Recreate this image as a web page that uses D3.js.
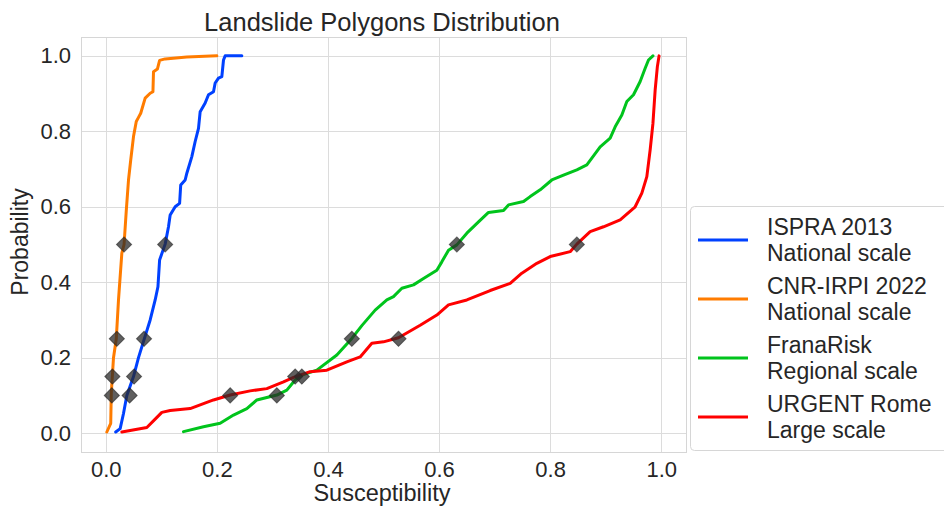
<!DOCTYPE html>
<html>
<head>
<meta charset="utf-8">
<script src="https://cdn.jsdelivr.net/npm/d3@7"></script>
<style>
  body { margin: 0; background: #fff; }
  text { font-family: "Liberation Sans", Arial, sans-serif; fill: #262626; }
</style>
</head>
<body>
<svg id="chart" width="944" height="507"></svg>
<script>
// ECDF curves (susceptibility, probability)
const ispraX = [0.018, 0.026, 0.032, 0.038, 0.050, 0.059, 0.069, 0.080, 0.089, 0.094, 0.097, 0.107, 0.113, 0.116, 0.125, 0.133, 0.135, 0.143, 0.146, 0.155, 0.161, 0.167, 0.170, 0.179, 0.185, 0.194, 0.197, 0.203, 0.209, 0.212, 0.215, 0.245];
const ispraY = [0.003, 0.012, 0.052, 0.100, 0.150, 0.200, 0.248, 0.300, 0.353, 0.388, 0.459, 0.501, 0.547, 0.578, 0.600, 0.609, 0.658, 0.671, 0.689, 0.733, 0.773, 0.808, 0.852, 0.875, 0.897, 0.905, 0.928, 0.941, 0.945, 0.989, 1.000, 1.000];

const cnrX = [0.002, 0.009, 0.010, 0.014, 0.019, 0.023, 0.029, 0.033, 0.037, 0.041, 0.045, 0.050, 0.055, 0.059, 0.063, 0.071, 0.080, 0.085, 0.086, 0.093, 0.097, 0.107, 0.146, 0.200];
const cnrY = [0.003, 0.026, 0.105, 0.200, 0.250, 0.353, 0.477, 0.500, 0.590, 0.671, 0.724, 0.786, 0.826, 0.837, 0.848, 0.888, 0.901, 0.905, 0.958, 0.965, 0.988, 0.992, 0.997, 1.000];

const franaX = [0.140, 0.176, 0.206, 0.230, 0.254, 0.272, 0.308, 0.326, 0.341, 0.353, 0.380, 0.416, 0.443, 0.461, 0.485, 0.506, 0.518, 0.533, 0.554, 0.572, 0.596, 0.605, 0.617, 0.632, 0.650, 0.671, 0.689, 0.716, 0.725, 0.752, 0.764, 0.782, 0.803, 0.824, 0.848, 0.866, 0.890, 0.908, 0.917, 0.929, 0.938, 0.950, 0.962, 0.971, 0.977, 0.985];
const franaY = [0.004, 0.017, 0.026, 0.048, 0.065, 0.088, 0.101, 0.114, 0.141, 0.154, 0.167, 0.207, 0.251, 0.285, 0.326, 0.353, 0.362, 0.384, 0.393, 0.410, 0.432, 0.454, 0.485, 0.499, 0.530, 0.560, 0.585, 0.590, 0.605, 0.614, 0.627, 0.645, 0.671, 0.684, 0.698, 0.711, 0.759, 0.782, 0.812, 0.843, 0.879, 0.897, 0.932, 0.967, 0.989, 1.000];

const urgentX = [0.029, 0.074, 0.089, 0.101, 0.116, 0.152, 0.194, 0.224, 0.260, 0.290, 0.320, 0.338, 0.368, 0.398, 0.434, 0.458, 0.479, 0.500, 0.527, 0.566, 0.596, 0.617, 0.650, 0.692, 0.728, 0.749, 0.776, 0.800, 0.836, 0.848, 0.872, 0.896, 0.926, 0.953, 0.965, 0.974, 0.980, 0.985, 0.989, 0.993, 0.996];
const urgentY = [0.003, 0.015, 0.037, 0.055, 0.060, 0.065, 0.088, 0.101, 0.112, 0.118, 0.136, 0.148, 0.163, 0.167, 0.189, 0.202, 0.238, 0.242, 0.253, 0.286, 0.313, 0.340, 0.353, 0.378, 0.397, 0.424, 0.450, 0.468, 0.481, 0.501, 0.534, 0.547, 0.565, 0.600, 0.636, 0.680, 0.751, 0.821, 0.910, 0.972, 1.000];

// quantile markers (probability levels and susceptibility for each series)
const markerProbs = [0.10, 0.15, 0.25, 0.50];
const ispraQ = [0.043, 0.051, 0.069, 0.107];
const cnrQ = [0.011, 0.012, 0.020, 0.033];
const franaQ = [0.308, 0.353, 0.443, 0.632];
const urgentQ = [0.224, 0.341, 0.527, 0.848];

const seriesNames = [["ISPRA 2013", "National scale"], ["CNR-IRPI 2022", "National scale"], ["FranaRisk", "Regional scale"], ["URGENT Rome", "Large scale"]];
const seriesColors = ["#0041ff", "#ff7c00", "#00c41c", "#ff0000"];
const xTicks = [0.0, 0.2, 0.4, 0.6, 0.8, 1.0];
const yTicks = [0.0, 0.2, 0.4, 0.6, 0.8, 1.0];

const series = [
  { x: ispraX, y: ispraY, q: ispraQ },
  { x: cnrX, y: cnrY, q: cnrQ },
  { x: franaX, y: franaY, q: franaQ },
  { x: urgentX, y: urgentY, q: urgentQ }
];

const plotL = 81, plotR = 686, plotT = 37, plotB = 452;
const svg = d3.select("#chart");

const x = d3.scaleLinear().domain([-0.0445, 1.0445]).range([plotL, plotR]);
const y = d3.scaleLinear().domain([-0.05, 1.05]).range([plotB, plotT]);

// grid
svg.append("g").selectAll("line").data(xTicks).enter().append("line")
  .attr("x1", d => Math.round(x(d)) + 0.5).attr("x2", d => Math.round(x(d)) + 0.5)
  .attr("y1", plotT).attr("y2", plotB)
  .attr("stroke", "#dcdcdc").attr("stroke-width", 1);
svg.append("g").selectAll("line").data(yTicks).enter().append("line")
  .attr("y1", d => Math.round(y(d)) + 0.5).attr("y2", d => Math.round(y(d)) + 0.5)
  .attr("x1", plotL).attr("x2", plotR)
  .attr("stroke", "#dcdcdc").attr("stroke-width", 1);

svg.append("rect")
  .attr("x", plotL + 0.5).attr("y", plotT + 0.5)
  .attr("width", plotR - plotL).attr("height", plotB - plotT)
  .attr("fill", "none").attr("stroke", "#d6d6d6").attr("stroke-width", 1);

// axes (labels only, seaborn whitegrid style)
const xAxis = svg.append("g").attr("transform", `translate(0,${plotB})`)
  .call(d3.axisBottom(x).tickValues(xTicks).tickFormat(d3.format(".1f")).tickSize(0).tickPadding(9));
const yAxis = svg.append("g").attr("transform", `translate(${plotL},0)`)
  .call(d3.axisLeft(y).tickValues(yTicks).tickFormat(d3.format(".1f")).tickSize(0).tickPadding(10));
[xAxis, yAxis].forEach(a => {
  a.select(".domain").remove();
  a.selectAll("text").attr("font-size", 22).attr("fill", "#262626")
    .style("font-family", "'Liberation Sans', Arial, sans-serif");
});

// curves
const line = d3.line().x(d => x(d[0])).y(d => y(d[1]));
series.forEach((s, i) => {
  svg.append("path")
    .datum(s.x.map((v, j) => [v, s.y[j]]))
    .attr("d", line)
    .attr("fill", "none")
    .attr("stroke", seriesColors[i])
    .attr("stroke-width", 3)
    .attr("stroke-linejoin", "round")
    .attr("stroke-linecap", "round");
});

// quantile markers
const diamond = d3.symbol().type(d3.symbolSquare).size(115);
series.forEach(s => {
  svg.append("g").selectAll("path").data(s.q).enter().append("path")
    .attr("d", diamond)
    .attr("transform", (d, j) => `translate(${x(d)},${y(markerProbs[j])}) rotate(45)`)
    .attr("fill", "#2a2a2a")
    .attr("fill-opacity", 0.75)
    .attr("stroke", "#222")
    .attr("stroke-opacity", 0.6)
    .attr("stroke-width", 1);
});

// titles
svg.append("text").attr("x", 382).attr("y", 31)
  .attr("text-anchor", "middle").attr("font-size", 25.5)
  .text("Landslide Polygons Distribution");
svg.append("text").attr("x", 382).attr("y", 501)
  .attr("text-anchor", "middle").attr("font-size", 23.5)
  .text("Susceptibility");
svg.append("text").attr("transform", `translate(28,242) rotate(-90)`)
  .attr("text-anchor", "middle").attr("font-size", 23)
  .text("Probability");

// legend
const legend = svg.append("g");
legend.append("rect")
  .attr("x", 690.5).attr("y", 206.5).attr("width", 270).attr("height", 244)
  .attr("rx", 4).attr("fill", "#fff").attr("stroke", "#d6d6d6");
const legendY = [240, 299, 358, 417];
seriesNames.forEach((names, i) => {
  legend.append("line")
    .attr("x1", 698).attr("x2", 748)
    .attr("y1", legendY[i]).attr("y2", legendY[i])
    .attr("stroke", seriesColors[i]).attr("stroke-width", 3);
  names.forEach((t, k) => {
    legend.append("text")
      .attr("x", 767).attr("y", legendY[i] - 12.8 + k * 25.6)
      .attr("dy", "0.36em").attr("font-size", 23)
      .text(t);
  });
});
</script>
</body>
</html>
